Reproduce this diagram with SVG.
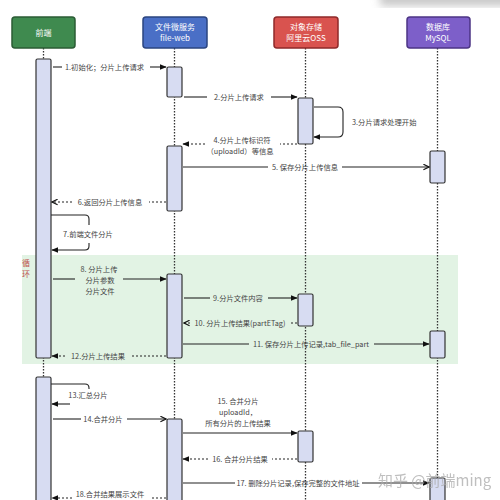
<svg xmlns="http://www.w3.org/2000/svg" width="500" height="500" viewBox="0 0 500 500">
<defs>
<style>
.hd{stroke-width:1.5}
.ht{font-family:"Noto Sans CJK SC","Liberation Sans",sans-serif;font-size:8px;fill:#fff;text-anchor:middle}
.life{stroke:#333;stroke-width:1.3;stroke-dasharray:1.5 1.5;fill:none}
.act{fill:#d7dcf2;stroke:#333;stroke-width:1.2}
.ln{stroke:#222;stroke-width:1.1;fill:none}
.dl{stroke:#222;stroke-width:1.1;fill:none;stroke-dasharray:2 2}
.lb{font-family:"Noto Sans CJK SC","Liberation Sans",sans-serif;font-size:7.3px;fill:#444}
.c{text-anchor:middle}
</style>
<marker id="f" viewBox="0 0 10 10" refX="9" refY="5" markerWidth="7" markerHeight="7" orient="auto" markerUnits="userSpaceOnUse"><path d="M0,1 L10,5 L0,9 Z" fill="#111"/></marker>
<marker id="o" viewBox="0 0 10 10" refX="9" refY="5" markerWidth="7" markerHeight="7" orient="auto" markerUnits="userSpaceOnUse"><path d="M1,1 L9,5 L1,9" fill="none" stroke="#111" stroke-width="1.6"/></marker>
<filter id="bl"><feGaussianBlur stdDeviation="4"/></filter>
</defs>
<rect width="500" height="500" fill="#fff"/>
<rect x="380" y="-10" width="140" height="16" fill="#bbb" filter="url(#bl)" opacity="0.8"/>

<g id="loop">
<rect x="22" y="255" width="436" height="109" fill="#e2f3e4"/>
<text class="lb" x="26" y="266" style="fill:#c0504d;font-size:8px" text-anchor="middle">循</text>
<text class="lb" x="26" y="277" style="fill:#c0504d;font-size:8px" text-anchor="middle">环</text>
</g>

<g id="lifelines">
<line class="life" x1="43.5" y1="48" x2="43.5" y2="500"/>
<line class="life" x1="174.5" y1="48" x2="174.5" y2="500"/>
<line class="life" x1="305.5" y1="48" x2="305.5" y2="500"/>
<line class="life" x1="437.5" y1="48" x2="437.5" y2="500"/>
</g>

<g id="frontend">
<rect class="hd" x="12" y="17" width="63" height="31" rx="3" fill="#3f8a4f" stroke="#2b5c35"/>
<text class="ht" x="43.5" y="35.5">前端</text>
<rect class="act" x="36" y="59" width="15" height="299" rx="1.5"/>
<rect class="act" x="36" y="377" width="15" height="130" rx="1.5"/>
</g>
<g id="file-web">
<rect class="hd" x="143" y="17" width="64" height="31" rx="3" fill="#4a6fc6" stroke="#2b4580"/>
<text class="ht" x="175" y="30">文件微服务</text>
<text class="ht" x="175" y="41">file-web</text>
<rect class="act" x="167" y="67" width="15" height="30" rx="1.5"/>
<rect class="act" x="167" y="146" width="15" height="65" rx="1.5"/>
<rect class="act" x="167" y="274" width="15" height="84" rx="1.5"/>
<rect class="act" x="167" y="419" width="15" height="90" rx="1.5"/>
</g>
<g id="oss">
<rect class="hd" x="274" y="17" width="64" height="31" rx="3" fill="#d9534f" stroke="#8e2a2a"/>
<text class="ht" x="306" y="30">对象存储</text>
<text class="ht" x="306" y="41">阿里云OSS</text>
<rect class="act" x="298" y="98" width="15" height="46" rx="1.5"/>
<rect class="act" x="298" y="294" width="15" height="32" rx="1.5"/>
<rect class="act" x="298" y="431" width="15" height="31" rx="1.5"/>
</g>
<g id="mysql">
<rect class="hd" x="407" y="17" width="63" height="31" rx="3" fill="#7d5fc9" stroke="#4c3585"/>
<text class="ht" x="438" y="30">数据库</text>
<text class="ht" x="438" y="41">MySQL</text>
<rect class="act" x="430" y="151" width="15" height="32" rx="1.5"/>
<rect class="act" x="430" y="331" width="15" height="27" rx="1.5"/>
<rect class="act" x="430" y="478" width="15" height="30" rx="1.5"/>
</g>

<g id="connectors">
<!-- 1 -->
<line class="ln" x1="53" y1="67" x2="62" y2="67"/>
<text class="lb" x="65" y="69.5">1.初始化；分片上传请求</text>
<line class="ln" x1="150" y1="67" x2="166" y2="67" marker-end="url(#f)"/>
<!-- 2 -->
<line class="ln" x1="184" y1="97" x2="207" y2="97"/>
<text class="lb c" x="239" y="99.5">2.分片上传请求</text>
<line class="ln" x1="271" y1="97" x2="297" y2="97" marker-end="url(#f)"/>
<!-- 3 -->
<path class="ln" d="M314,107 H338 Q343,107 343,112 V132 Q343,137 338,137 H314" marker-end="url(#f)"/>
<text class="lb" x="352" y="124.5">3.分片请求处理开始</text>
<!-- 4 -->
<line class="dl" x1="297" y1="144" x2="280" y2="144"/>
<text class="lb c" x="242" y="142.5">4.分片上传标识符</text>
<text class="lb c" x="240" y="154">（uploadId）等信息</text>
<line class="dl" x1="205" y1="144" x2="183" y2="144" marker-end="url(#f)"/>
<!-- 5 -->
<line class="ln" x1="183" y1="167" x2="268" y2="167"/>
<text class="lb c" x="305" y="169.5">5. 保存分片上传信息</text>
<line class="ln" x1="342" y1="167" x2="429" y2="167" marker-end="url(#o)"/>
<!-- 6 -->
<line class="dl" x1="166" y1="202" x2="149" y2="202"/>
<text class="lb c" x="110" y="204.5">6.返回分片上传信息</text>
<line class="dl" x1="72" y1="202" x2="52" y2="202" marker-end="url(#o)"/>
<!-- 7 -->
<path class="ln" d="M51,215 H85 Q89,215 89,219 V225"/>
<text class="lb c" x="88" y="236.5">7.前端文件分片</text>
<path class="ln" d="M89,243 V246 Q89,250 85,250 H52" marker-end="url(#f)"/>
<!-- 8 -->
<line class="ln" x1="53" y1="279" x2="75" y2="279"/>
<text class="lb c" x="99" y="272">8. 分片上传</text>
<text class="lb c" x="100" y="283">分片参数</text>
<text class="lb c" x="100" y="294">分片文件</text>
<line class="ln" x1="123" y1="279" x2="166" y2="279" marker-end="url(#f)"/>
<!-- 9 -->
<line class="ln" x1="184" y1="298" x2="210" y2="298"/>
<text class="lb c" x="238" y="300.5">9.分片文件内容</text>
<line class="ln" x1="268" y1="298" x2="297" y2="298" marker-end="url(#f)"/>
<!-- 10 -->
<line class="dl" x1="297" y1="323" x2="290" y2="323"/>
<text class="lb c" x="240" y="325.5">10. 分片上传结果(partETag)</text>
<line class="dl" x1="190" y1="323" x2="184" y2="323" marker-end="url(#o)"/>
<!-- 11 -->
<line class="ln" x1="183" y1="344" x2="249" y2="344"/>
<text class="lb c" x="311" y="346.5">11. 保存分片上传记录,tab_file_part</text>
<line class="ln" x1="374" y1="344" x2="429" y2="344" marker-end="url(#f)"/>
<!-- 12 -->
<line class="dl" x1="166" y1="356" x2="132" y2="356"/>
<text class="lb c" x="98" y="358.5">12.分片上传结果</text>
<line class="dl" x1="65" y1="356" x2="52" y2="356" marker-end="url(#f)"/>
<!-- 13 -->
<path class="ln" d="M51,384 H85 Q89,384 89,388 V389"/>
<text class="lb c" x="88" y="398">13.汇总分片</text>
<line class="ln" x1="70" y1="404" x2="52" y2="404" marker-end="url(#f)"/>
<!-- 14 -->
<line class="ln" x1="53" y1="419" x2="81" y2="419"/>
<text class="lb c" x="103" y="421.5">14.合并分片</text>
<line class="ln" x1="127" y1="419" x2="166" y2="419" marker-end="url(#o)"/>
<!-- 15 -->
<text class="lb c" x="238" y="403.5">15. 合并分片</text>
<text class="lb c" x="238" y="414.5">uploadId，</text>
<text class="lb c" x="238" y="425.5">所有分片的上传结果</text>
<line class="ln" x1="183" y1="433" x2="297" y2="433" marker-end="url(#f)"/>
<!-- 16 -->
<line class="dl" x1="297" y1="459" x2="272" y2="459"/>
<text class="lb c" x="240" y="461.5">16. 合并分片结果</text>
<line class="dl" x1="208" y1="459" x2="183" y2="459" marker-end="url(#f)"/>
<!-- 17 -->
<line class="ln" x1="183" y1="483" x2="235" y2="483"/>
<text class="lb c" x="298" y="485.5">17. 删除分片记录,保存完整的文件地址</text>
<line class="ln" x1="362" y1="483" x2="429" y2="483" marker-end="url(#f)"/>
<!-- 18 -->
<line class="dl" x1="166" y1="498" x2="150" y2="498"/>
<text class="lb c" x="110" y="496.5">18.合并结果展示文件</text>
<line class="dl" x1="72" y1="498" x2="52" y2="498" marker-end="url(#f)"/>
</g>

<text x="378" y="486" style="font-family:'Noto Sans CJK SC','Liberation Sans',sans-serif;font-size:15px;fill:#aaa;opacity:0.75">知乎 @前端ming</text>
</svg>
